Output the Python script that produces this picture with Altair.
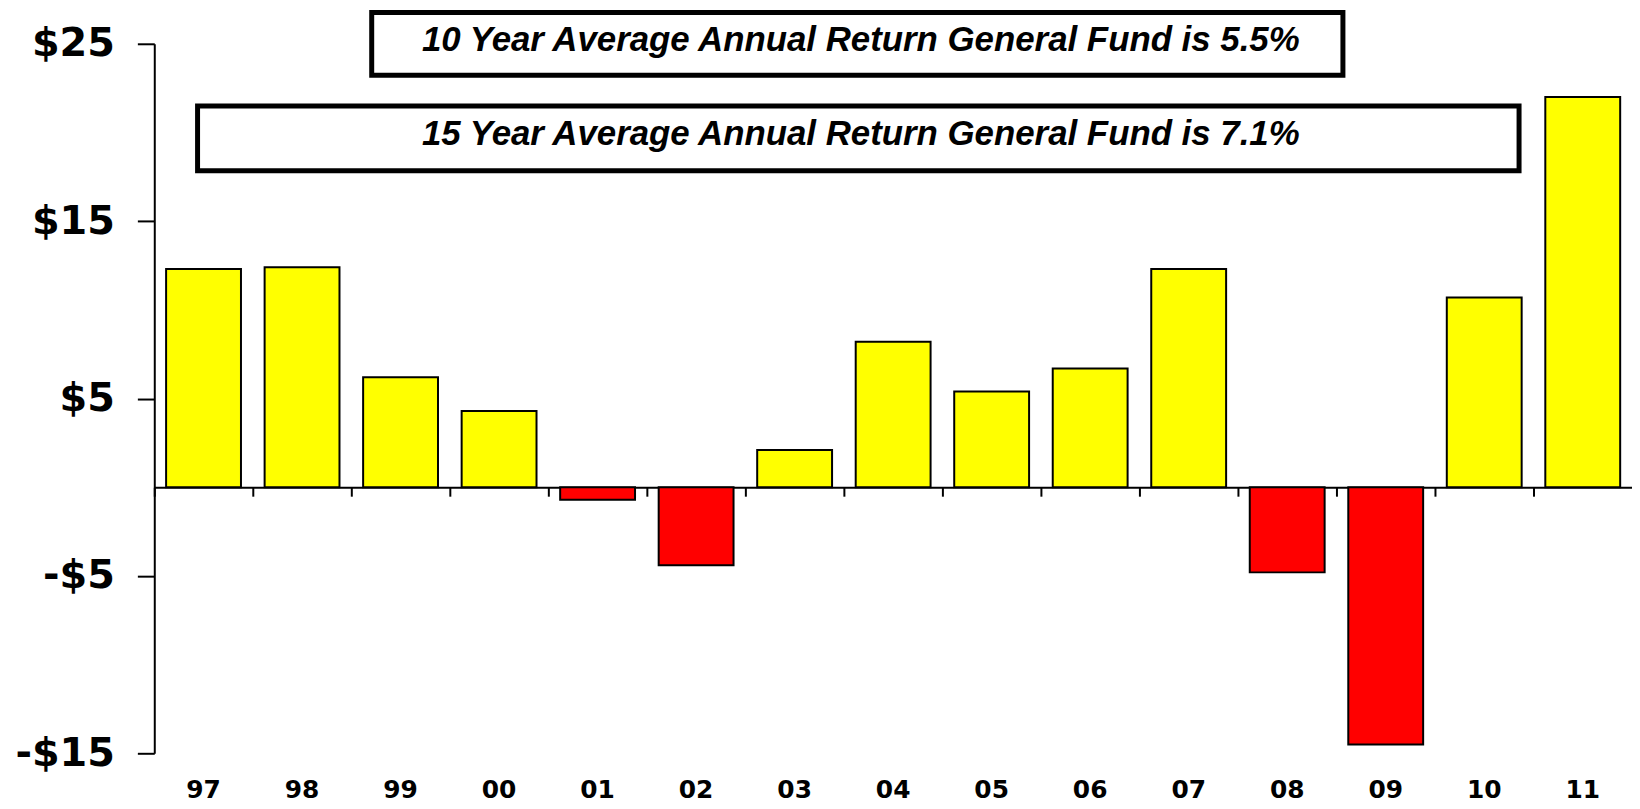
import altair as alt
import pandas as pd

# ---- data ----
years = ["97", "98", "99", "00", "01", "02", "03", "04", "05", "06", "07", "08", "09", "10", "11"]
values = [12.3, 12.4, 6.2, 4.3, -0.7, -4.4, 2.1, 8.2, 5.4, 6.7, 12.3, -4.8, -14.5, 10.7, 22.0]
y_ticks = [-15, -5, 5, 15, 25]
note_10 = "10 Year Average Annual Return General Fund is 5.5%"
note_15 = "15 Year Average Annual Return General Fund is 7.1%"

df = pd.DataFrame({
    "year": years,
    "value": values,
    "sign": ["pos" if v >= 0 else "neg" for v in values],
})

W = 1485
H = 713
ZERO_OFFSET = -H * 15 / 40

yscale = alt.Scale(domain=[-15, 25], nice=False, zero=False)
yaxis = alt.Axis(title=None, values=y_ticks, grid=False,
                 labelExpr="datum.value < 0 ? '-$' + abs(datum.value) : '$' + datum.value",
                 labelFont="DejaVu Sans", labelFontWeight="bold",
                 labelFontSize=40, labelColor="black", labelPadding=23,
                 domain=True, domainColor="black", domainWidth=2,
                 ticks=True, tickColor="black", tickWidth=2, tickSize=17)

bars = alt.Chart(df).mark_bar(stroke="black", strokeWidth=2).encode(
    x=alt.X("year:N", sort=years,
            scale=alt.Scale(paddingInner=0.24, paddingOuter=0.12),
            axis=alt.Axis(title=None, orient="bottom", domain=False, ticks=False, labelAngle=0,
                          labelFont="DejaVu Sans", labelFontWeight="bold",
                          labelFontSize=25, labelColor="black",
                          labelPadding=24, labelBaseline="top")),
    y=alt.Y("value:Q", scale=yscale, axis=yaxis),
    color=alt.Color("sign:N", scale=alt.Scale(domain=["pos", "neg"], range=["#FFFF00", "#FF0000"]),
                    legend=None),
)

zero_axis = alt.Chart(df).mark_bar(opacity=0).encode(
    x=alt.X("year:N", sort=years,
            scale=alt.Scale(paddingInner=0, paddingOuter=0),
            axis=alt.Axis(title=None, labels=False, domain=True, domainColor="black",
                          domainWidth=2, ticks=True, tickColor="black", tickWidth=2,
                          tickSize=9, bandPosition=0, offset=ZERO_OFFSET, orient="bottom")),
    y=alt.Y("value:Q", scale=yscale, axis=yaxis),
)

one = pd.DataFrame({"k": [0]})

box1 = alt.Chart(one).mark_rect(fill="white", stroke="black", strokeWidth=5).encode(
    x=alt.value(218.5), x2=alt.value(1194.5), y=alt.value(-31.5), y2=alt.value(31.5))
box2 = alt.Chart(one).mark_rect(fill="white", stroke="black", strokeWidth=5).encode(
    x=alt.value(43.5), x2=alt.value(1371.5), y=alt.value(62.5), y2=alt.value(127.5))

txt_style = dict(font="Liberation Sans", fontStyle="italic", fontWeight="bold",
                 fontSize=35, color="black", align="center", baseline="alphabetic")
text1 = alt.Chart(one).mark_text(text=note_10, **txt_style).encode(
    x=alt.value(710), y=alt.value(7.5))
text2 = alt.Chart(one).mark_text(text=note_15, **txt_style).encode(
    x=alt.value(710), y=alt.value(101.5))

chart = alt.layer(bars, zero_axis, box1, box2, text1, text2).resolve_scale(
    x="independent").resolve_axis(x="independent").properties(
    width=W, height=H,
    autosize=alt.AutoSizeParams(type="none"),
    padding={"left": 147, "top": 34, "right": 0, "bottom": 52},
    background="white",
).configure_view(strokeWidth=0)

chart.save("out.html", embed_options={"renderer": "svg", "actions": False})
